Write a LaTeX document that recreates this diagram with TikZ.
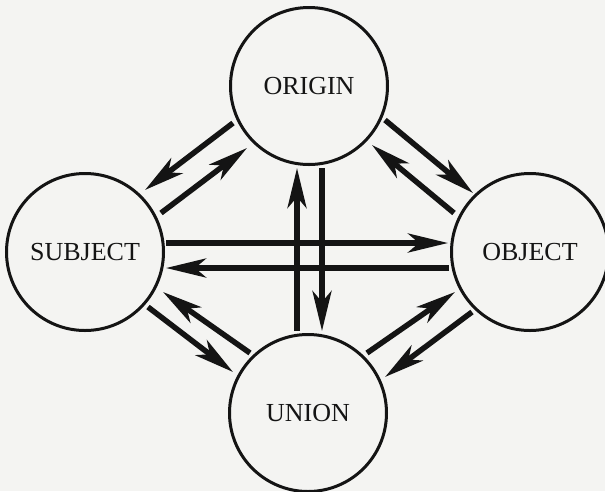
\documentclass[tikz,border=0pt]{standalone}
\usepackage{fontspec}
\setmainfont{Liberation Serif}
\usetikzlibrary{arrows.meta}
\definecolor{paper}{RGB}{244,244,242}
\definecolor{ink}{RGB}{20,20,20}
\begin{document}
\begin{tikzpicture}[x=1pt,y=-1pt,
  circ/.style={circle,draw=ink,line width=3pt,minimum size=157pt,inner sep=0pt,
    font=\fontsize{26}{26}\selectfont,text=ink},
  arr/.style={draw=ink,line width=5.5pt,
    -{Stealth[length=40pt,width=19pt,inset=11pt]}}]
  % page
  \fill[paper] (0,0) rectangle (605,491);
  \useasboundingbox (0,0) rectangle (605,491);

  % the four states
  \node[circ] (O) at (309,86)  {ORIGIN};
  \node[circ] (S) at (85,252)  {SUBJECT};
  \node[circ] (B) at (530,252) {OBJECT};
  \node[circ] (U) at (308,413) {UNION};

  % ORIGIN <-> SUBJECT
  \draw[arr] ([shift={(-76,37)}]O.center) -- ([shift={(60,-62)}]S.center);
  \draw[arr] ([shift={(76,-39)}]S.center) -- ([shift={(-62,62)}]O.center);
  % ORIGIN <-> OBJECT
  \draw[arr] ([shift={(76,34)}]O.center) -- ([shift={(-57,-59)}]B.center);
  \draw[arr] ([shift={(-76,-39)}]B.center) -- ([shift={(63,59)}]O.center);
  % UNION <-> SUBJECT
  \draw[arr] ([shift={(-58,-60)}]U.center) -- ([shift={(78,40)}]S.center);
  \draw[arr] ([shift={(63,55)}]S.center) -- ([shift={(-75,-41)}]U.center);
  % UNION <-> OBJECT
  \draw[arr] ([shift={(59,-60)}]U.center) -- ([shift={(-75,40)}]B.center);
  \draw[arr] ([shift={(-58,60)}]B.center) -- ([shift={(77,-36)}]U.center);
  % SUBJECT <-> OBJECT
  \draw[arr] ([shift={(81,-9)}]S.center) -- ([shift={(-82,-9)}]B.center);
  \draw[arr] ([shift={(-81,16)}]B.center) -- ([shift={(81,16)}]S.center);
  % UNION <-> ORIGIN
  \draw[arr] ([shift={(-11,-82)}]U.center) -- ([shift={(-12,82)}]O.center);
  \draw[arr] ([shift={(13,82)}]O.center) -- ([shift={(14,-82)}]U.center);
\end{tikzpicture}
\end{document}
